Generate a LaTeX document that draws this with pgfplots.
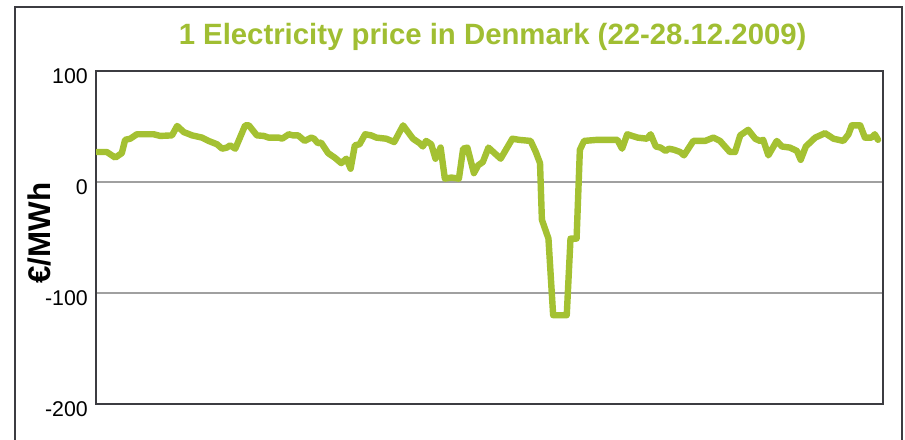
\documentclass[border=0pt]{standalone}
\usepackage{fontspec}
\setmainfont{Liberation Sans}
\usepackage{pgfplots}
\pgfplotsset{compat=1.18}
\definecolor{lineGreen}{RGB}{164,193,50}
\definecolor{titleGreen}{RGB}{160,190,50}
\definecolor{frameGray}{RGB}{60,60,65}
\definecolor{gridGray}{RGB}{160,160,160}
\begin{document}
\begin{tikzpicture}
\path[use as bounding box, fill=white] (0pt,0pt) rectangle (678.75pt,329.25pt);
\draw[frameGray, line width=1.1pt] (11.25pt,-5pt) -- (11.25pt,324pt) -- (676.5pt,324pt) -- (676.5pt,-5pt);
\begin{axis}[
  at={(72pt,26.25pt)}, anchor=south west,
  scale only axis, width=590.25pt, height=249.75pt,
  xmin=-0.21, xmax=167.66,
  ymin=-200, ymax=100,
  xtick=\empty,
  ytick={-200,-100,0,100},
  major tick length=0pt,
  ymajorgrids,
  grid style={gridGray, line width=0.8pt},
  axis line style={frameGray, line width=1.1pt},
  /pgf/number format/assume math mode=true,
  yticklabel style={font=\fontsize{16}{16}\selectfont, inner sep=0pt, xshift=-6pt, yshift=-3.5pt},
  ylabel={€/MWh},
  ylabel style={at={(axis description cs:-0.0724,0.513)}, rotate=0, anchor=center, font=\fontsize{23.5}{23.5}\bfseries},
  title={1 Electricity price in Denmark (22-28.12.2009)},
  title style={at={(axis description cs:0.504,1)}, anchor=base, yshift=14.25pt, font=\fontsize{22}{22}\bfseries, text=titleGreen},
]
\addplot[color=lineGreen, line width=4.8pt, line join=round, line cap=round] coordinates {
(0,27)(2.1,27)(3.9,22)(5.3,26)(6.0,38)(7.1,39)(8.5,43)(12.1,43)(13.5,41.5)(16.0,42)(17.1,50.5)(18.5,45)(20.3,42)(22.4,40)(23.8,37)(25.6,34)(26.7,30)(27.7,31)(28.4,33)(29.5,30)(31.6,51)(32.4,51)(34.1,42)(35.6,41.5)(36.6,40)(38.8,40)(39.5,39)(40.9,43)(41.8,42)(42.9,42)(44.3,37)(45.7,40)(46.3,39)(47.1,35)(47.8,35.5)(49.3,26)(50.7,22)(52.1,17)(53.2,21)(54.1,12)(55.0,33)(56.0,34)(57.2,43)(58.5,42)(59.6,40)(61.7,39)(63.4,36)(65.3,51)(67.4,39)(68.8,35)(69.5,32)(70.2,37)(71.3,34)(72.2,21)(73.3,31)(74.2,3)(75.6,4)(77.2,3)(78.1,30)(79.0,31)(80.4,8)(81.3,15)(82.3,18)(83.5,31)(86.1,21)(88.6,39)(90.0,38)(92.5,37)(93.6,27)(94.5,17)(94.9,-34)(96.3,-51)(97.3,-120)(100.2,-120)(101.0,-51)(102.3,-51)(103.0,29)(103.9,37)(106.7,38)(111.0,38)(112.0,30)(113.1,43)(115.3,40)(117.3,39)(118.1,43)(119.2,32)(120.2,31)(121.3,28)(122.0,30)(123.1,29)(124.4,27)(125.2,24)(127.2,37)(129.7,37)(131.5,40)(132.9,37)(135.0,27)(136.1,27)(137.2,42)(138.9,47)(140.4,39)(141.4,37)(142.1,38)(143.2,24)(145.0,37)(146.1,32)(147.8,31)(149.3,28)(150.1,20)(151.2,32)(153.2,40)(155.3,44)(157.1,39)(159.2,37)(160.3,43)(161.0,51)(162.8,51)(163.8,40)(165.2,40)(165.9,43)(166.6,38)
};
\end{axis}
\end{tikzpicture}
\end{document}
